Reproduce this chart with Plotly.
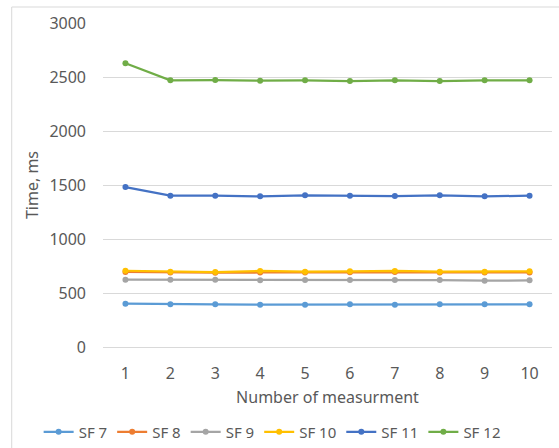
import plotly.graph_objects as go

measurements = [1, 2, 3, 4, 5, 6, 7, 8, 9, 10]
sf7 = [401, 395, 395, 392, 392, 395, 392, 395, 395, 395]
sf8 = [695, 690, 688, 690, 690, 692, 695, 690, 690, 690]
sf9 = [623, 623, 623, 617, 620, 620, 620, 620, 614, 617]
sf10 = [706, 697, 694, 704, 697, 701, 704, 697, 697, 701]
sf11 = [1481, 1401, 1401, 1395, 1404, 1401, 1398, 1404, 1395, 1401]
sf12 = [2627, 2469, 2472, 2466, 2469, 2463, 2469, 2463, 2469, 2469]

series_names = ["SF 7", "SF 8", "SF 9", "SF 10", "SF 11", "SF 12"]
series_values = [sf7, sf8, sf9, sf10, sf11, sf12]
colors = ["#5B9BD5", "#ED7D31", "#A5A5A5", "#FFC000", "#4472C4", "#70AD47"]

FONT = "Noto Sans"
TXT = "#595959"

fig = go.Figure()
for name, vals, col in zip(series_names, series_values, colors):
    fig.add_trace(go.Scatter(
        x=measurements, y=vals, name=name, mode="lines+markers",
        line=dict(color=col, width=2.25),
        marker=dict(color=col, size=6),
    ))

W, H = 559, 448
L, R, T, B = 102.5, 6.5, 23, 101
pw = W - L - R
ph = H - T - B

fig.update_layout(
    width=W, height=H,
    margin=dict(l=L, r=R, t=T, b=B, autoexpand=False),
    paper_bgcolor="white", plot_bgcolor="white",
    font=dict(family=FONT, size=16, color=TXT),
    showlegend=True,
    legend=dict(orientation="h",
                x=(38 - L) / pw, xanchor="left",
                y=-(432 - (T + ph)) / ph, yanchor="middle",
                font=dict(size=15, color=TXT), itemwidth=30,
                tracegroupgap=0, bgcolor="rgba(0,0,0,0)"),
    xaxis=dict(
        range=[0.5, 10.5], tickmode="array", tickvals=measurements,
        ticktext=[str(m) for m in measurements],
        showgrid=False, zeroline=False,
        showline=True, linecolor="#D9D9D9", linewidth=1,
        ticks="", ticklabelstandoff=12,
        title=dict(text="Number of measurment", font=dict(size=16, color=TXT), standoff=8),
    ),
    yaxis=dict(
        range=[0, 3000], tickmode="array", tickvals=[0, 500, 1000, 1500, 2000, 2500, 3000],
        showgrid=True, gridcolor="#D9D9D9", gridwidth=1,
        zeroline=False, showline=False, ticks="", ticklabelstandoff=16,
        title=dict(text="Time, ms", font=dict(size=16, color=TXT), standoff=6),
    ),
    shapes=[dict(type="rect", xref="paper", yref="paper",
                 x0=(11 - L) / pw, x1=1.3, y0=-1.0, y1=(T + ph - 7) / ph,
                 line=dict(color="#D9D9D9", width=1), fillcolor="rgba(0,0,0,0)",
                 layer="below")],
)

fig.write_html("out.html")
